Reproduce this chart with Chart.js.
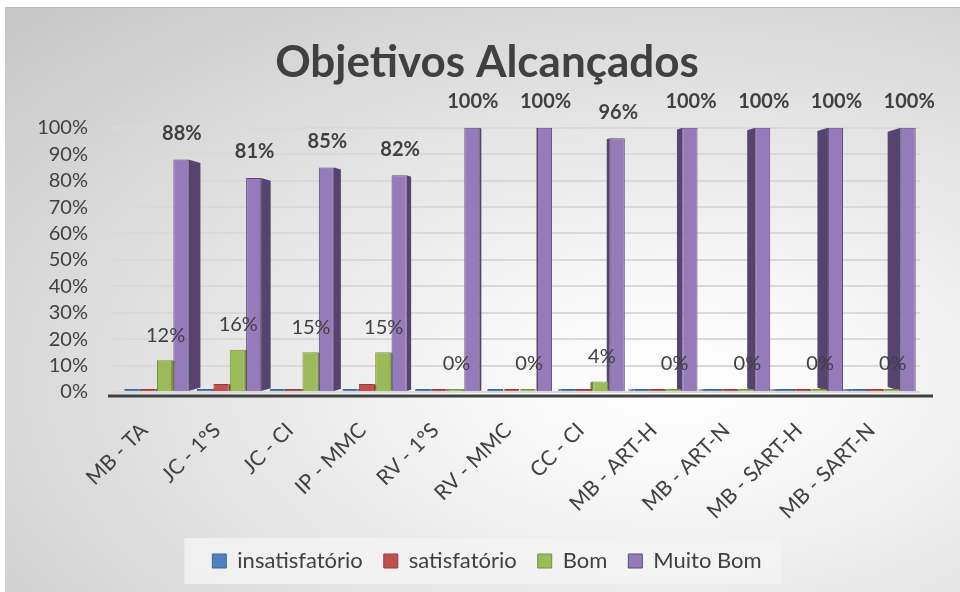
<!DOCTYPE html>
<html>
<head>
<meta charset="utf-8">
<title>Objetivos Alcançados</title>
<script src="https://cdn.jsdelivr.net/npm/chart.js@4.4.1/dist/chart.umd.min.js"></script>
<style>
    body { margin: 0; background: #ffffff; }
    #bg {
        position: absolute; left: 5px; top: 7px; width: 955px; height: 585px;
        background: radial-gradient(ellipse farthest-corner at 70% 64%, #ffffff 0%, #f6f6f6 22%, #c6c6c6 100%);
        border-top: 1px solid #b8b8b8;
    }
    #box { position: absolute; left: 0; top: 0; width: 960px; height: 592px; }
</style>
</head>
<body>
<div id="bg"></div>
<div id="box"><canvas id="myChart"></canvas></div>
<script>
const CATEGORIES = ['MB - TA', 'JC - 1ºS', 'JC - CI', 'IP - MMC', 'RV - 1ºS', 'RV - MMC', 'CC - CI', 'MB - ART-H', 'MB - ART-N', 'MB - SART-H', 'MB - SART-N'];
const INSATISFATORIO = [0, 0, 0, 0, 0, 0, 0, 0, 0, 0, 0];
const SATISFATORIO = [0, 3, 0, 3, 0, 0, 0, 0, 0, 0, 0];
const BOM = [12, 16, 15, 15, 0, 0, 4, 0, 0, 0, 0];
const MUITO_BOM = [88, 81, 85, 82, 100, 100, 96, 100, 100, 100, 100];
const SERIES_NAMES = ['insatisfatório', 'satisfatório', 'Bom', 'Muito Bom'];

const FONT = 'Lato';
const TEXT_COLOR = '#404040';
const BAR_COLORS = ['#4F81BD', '#C0504D', '#9BBB59', '#967BBA'];
const BORDER_COLORS = ['#3A6595', '#943C3A', '#76923C', '#5D4879'];
const SIDE_COLORS = ['#385D8A', '#8C3836', '#718C3A', '#56436F'];

// darker side faces to fake the 3D look of the original
const depthFaces = {
    id: 'depthFaces',
    beforeDatasetsDraw(chart) {
        const ctx = chart.ctx;
        chart.data.datasets.forEach((ds, di) => {
            const meta = chart.getDatasetMeta(di);
            ctx.save();
            ctx.fillStyle = SIDE_COLORS[di];
            meta.data.forEach((bar, i) => {
                const dx = (4.8 - i) * 2.5;
                const top = Math.min(bar.y, bar.base);
                const bot = Math.max(bar.y, bar.base);
                const k = Math.min(Math.abs(dx) * 0.3, (bot - top) / 3);
                const edge = dx >= 0 ? bar.x + bar.width / 2 : bar.x - bar.width / 2;
                ctx.beginPath();
                ctx.moveTo(edge, top);
                ctx.lineTo(edge + dx, top + k);
                ctx.lineTo(edge + dx, bot - k);
                ctx.lineTo(edge, bot);
                ctx.closePath();
                ctx.fill();
            });
            ctx.restore();
        });
    },
    afterDatasetsDraw(chart) {
        const ctx = chart.ctx;
        const area = chart.chartArea;
        // floor line
        ctx.save();
        ctx.strokeStyle = '#404040';
        ctx.lineWidth = 3;
        ctx.beginPath();
        ctx.moveTo(area.left - 12, area.bottom + 4);
        ctx.lineTo(area.right + 13, area.bottom + 4);
        ctx.stroke();
        ctx.restore();

        // value labels for Bom and Muito Bom
        [2, 3].forEach(di => {
            const meta = chart.getDatasetMeta(di);
            const data = chart.data.datasets[di].data;
            ctx.save();
            ctx.font = (di === 3 ? 'bold ' : '') + '20px ' + FONT;
            ctx.fillStyle = TEXT_COLOR;
            ctx.textAlign = 'center';
            ctx.textBaseline = 'middle';
            meta.data.forEach((bar, i) => {
                ctx.fillText(data[i] + '%', bar.x + 1, bar.y - (di === 3 ? 26 : 25));
            });
            ctx.restore();
        });
    }
};

// title and legend sit a little right of the plot centre in the original
const shiftBlocks = {
    id: 'shiftBlocks',
    afterLayout(chart) {
        [chart.titleBlock, chart.legend].forEach(box => {
            if (!box) return;
            box.left += 22;
            box.right += 22;
        });
    }
};

const legendBox = {
    id: 'legendBox',
    beforeDraw(chart) {
        const lg = chart.legend;
        if (!lg || !lg.legendHitBoxes || !lg.legendHitBoxes.length) return;
        const hb = lg.legendHitBoxes;
        const left = Math.min(...hb.map(h => h.left)) - 28;
        const right = Math.max(...hb.map(h => h.left + h.width)) + 20;
        const cy = hb[0].top + hb[0].height / 2;
        const ctx = chart.ctx;
        ctx.save();
        ctx.fillStyle = 'rgba(244,244,244,0.8)';
        ctx.fillRect(left, cy - 23, right - left, 46);
        ctx.restore();
    }
};

const seriesValues = [INSATISFATORIO, SATISFATORIO, BOM, MUITO_BOM];

const ctx = document.getElementById('myChart');
const myChart = new Chart(ctx, {
    type: 'bar',
    data: {
        labels: CATEGORIES,
        datasets: seriesValues.map((vals, i) => ({
            label: SERIES_NAMES[i],
            data: vals,
            backgroundColor: BAR_COLORS[i],
            borderColor: BORDER_COLORS[i],
            borderWidth: 1,
            minBarLength: 3,
            categoryPercentage: 0.9,
            barPercentage: 0.92
        }))
    },
    options: {
        responsive: true,
        maintainAspectRatio: false,
        animation: false,
        layout: {
            padding: { left: 10, right: 40, top: 0, bottom: 10 }
        },
        plugins: {
            title: {
                display: true,
                text: 'Objetivos Alcançados',
                color: TEXT_COLOR,
                font: { family: FONT, size: 44, weight: 'bold' },
                padding: { top: 36, bottom: 39 }
            },
            legend: {
                position: 'bottom',
                labels: {
                    color: TEXT_COLOR,
                    font: { family: FONT, size: 22 },
                    boxWidth: 14,
                    boxHeight: 14,
                    padding: 21
                }
            },
            tooltip: { enabled: false }
        },
        scales: {
            y: {
                min: 0,
                max: 100,
                ticks: {
                    stepSize: 10,
                    autoSkip: false,
                    color: TEXT_COLOR,
                    font: { family: FONT, size: 20 },
                    padding: 22,
                    callback: v => v + '%'
                },
                grid: { color: '#d9d9d9', lineWidth: 2, tickLength: 10 },
                border: { display: false },
                afterFit(scale) { scale.width = 110; }
            },
            x: {
                ticks: {
                    color: TEXT_COLOR,
                    font: { family: FONT, size: 21 },
                    minRotation: 45,
                    maxRotation: 45,
                    autoSkip: false,
                    padding: 18,
                    labelOffset: -12
                },
                grid: { display: false },
                border: { display: false },
                afterFit(scale) { scale.height = 137; }
            }
        }
    },
    plugins: [depthFaces, shiftBlocks, legendBox]
});
</script>
</body>
</html>
